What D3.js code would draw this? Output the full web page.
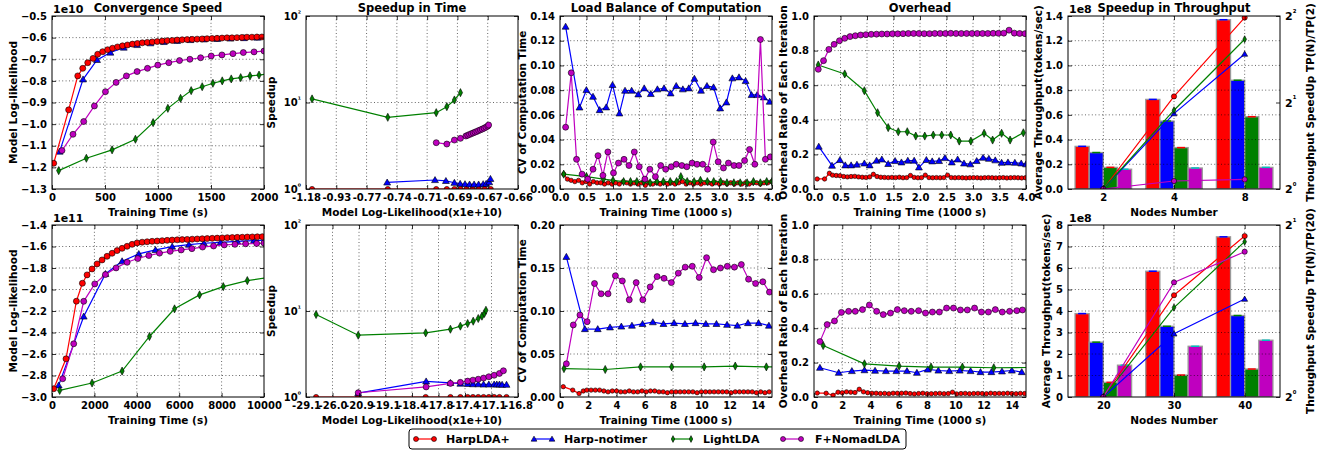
<!DOCTYPE html>
<html><head><meta charset="utf-8">
<script src="https://cdn.jsdelivr.net/npm/d3@7"></script>
<style>
body{margin:0;background:#fff;}
svg text{font-family:"DejaVu Sans",sans-serif;font-weight:bold;fill:#000;}
</style></head><body>
<svg id="chart" width="1319" height="452"></svg>
<script>
// ---------------- DATA ----------------
const seriesNames = ["HarpLDA+", "Harp-notimer", "LightLDA", "F+NomadLDA"];

// Convergence speed, row 1 (x: s, y: x1e10)
const conv1HarpX = [16,157,243,290,337,387,431,478,525,571,618,665,712,759,806,852,899,946,993,1040,1087,1134,1181,1228,1275,1322,1369,1416,1463,1510,1557,1604,1651,1698,1745,1792,1839,1886,1933,1980];
const conv1HarpY = [-1.181,-0.934,-0.777,-0.742,-0.716,-0.696,-0.677,-0.665,-0.656,-0.649,-0.643,-0.638,-0.634,-0.630,-0.627,-0.624,-0.622,-0.620,-0.618,-0.616,-0.614,-0.613,-0.611,-0.610,-0.609,-0.608,-0.607,-0.606,-0.605,-0.604,-0.603,-0.602,-0.601,-0.601,-0.600,-0.599,-0.598,-0.598,-0.597,-0.597];
const conv1NotimerX = [72,293,425,551,677,803,929,1055,1181,1307,1433,1559,1685,1811,1937];
const conv1NotimerY = [-1.127,-0.793,-0.703,-0.669,-0.646,-0.634,-0.626,-0.620,-0.615,-0.611,-0.608,-0.606,-0.604,-0.602,-0.600];
const conv1LightX = [63,324,567,787,954,1093,1213,1313,1417,1518,1606,1691,1780,1868,1953,2040];
const conv1LightY = [-1.215,-1.158,-1.119,-1.070,-0.993,-0.927,-0.881,-0.845,-0.827,-0.811,-0.800,-0.791,-0.785,-0.777,-0.773,-0.767];
const conv1NomadX = [94,198,299,400,504,605,702,803,901,998,1102,1203,1301,1402,1502,1603,1707,1805,1906,2000];
const conv1NomadY = [-1.122,-1.047,-0.988,-0.916,-0.850,-0.807,-0.777,-0.757,-0.742,-0.727,-0.716,-0.706,-0.700,-0.693,-0.685,-0.680,-0.674,-0.669,-0.666,-0.662];

// Convergence speed, row 2 (x: s, y: x1e11)
const conv2HarpX = [79,661,1150,1433,1654,1890,2126,2362,2598,2835,3071,3307,3543,3780,4016,4252,4488,4724,4961,5197,5433,5669,5906,6142,6378,6614,6850,7087,7323,7559,7795,8031,8268,8504,8740,8976,9213,9449,9685,9921];
const conv2HarpY = [-2.923,-2.645,-2.109,-1.942,-1.864,-1.809,-1.762,-1.725,-1.691,-1.663,-1.638,-1.617,-1.598,-1.580,-1.567,-1.560,-1.556,-1.552,-1.549,-1.546,-1.543,-1.540,-1.538,-1.536,-1.534,-1.532,-1.530,-1.528,-1.526,-1.524,-1.522,-1.520,-1.518,-1.517,-1.515,-1.514,-1.512,-1.511,-1.510,-1.509];
const conv2NotimerX = [315,1496,2520,3307,4094,4882,5669,6457,7165,7953,8740,9528,10300];
const conv2NotimerY = [-2.892,-2.251,-1.855,-1.737,-1.669,-1.632,-1.601,-1.583,-1.570,-1.561,-1.552,-1.545,-1.540];
const conv2LightX = [362,1890,3307,4598,5780,6961,8079,9213,10300];
const conv2LightY = [-2.939,-2.870,-2.759,-2.437,-2.180,-2.050,-1.973,-1.917,-1.885];
const conv2NomadX = [504,1024,1496,2016,2520,3024,3543,4047,4567,5071,5575,6094,6598,7102,7622,8126,8630,9134,9654,10000];
const conv2NomadY = [-2.830,-2.505,-2.110,-1.948,-1.861,-1.799,-1.747,-1.712,-1.684,-1.662,-1.645,-1.632,-1.620,-1.605,-1.595,-1.585,-1.580,-1.575,-1.572,-1.568];

// Speedup in time (x: model log-likelihood x1e10, y: speedup, log)
const spd1Ticks = ["-1.18","-0.93","-0.77","-0.74","-0.71","-0.69","-0.67","-0.66"];
const spd1HarpX = [-1.13,-0.749,-0.704,-0.697,-0.692,-0.688,-0.684,-0.680,-0.676,-0.672,-0.669];
const spd1HarpY = [1,1,1,1,1,1,1,1,1,1,1];
const spd1NotimerX = [-0.7496,-0.7048,-0.6976,-0.692,-0.6882,-0.685,-0.682,-0.679,-0.676,-0.673,-0.671,-0.6695,-0.6691];
const spd1NotimerY = [1.19,1.27,1.24,1.18,1.15,1.14,1.13,1.13,1.13,1.14,1.15,1.20,1.31];
const spd1LightX = [-1.13,-0.749,-0.704,-0.697,-0.692,-0.688];
const spd1LightY = [11.0,6.74,7.63,8.95,10.7,13.0];
const spd1NomadX = [-0.704,-0.697,-0.692,-0.688,-0.6844,-0.6832,-0.682,-0.6808,-0.6796,-0.6784,-0.6772,-0.676,-0.6748,-0.6736,-0.6724,-0.6712,-0.670,-0.6697];
const spd1NomadY = [3.43,3.31,3.68,3.85,4.10,4.18,4.27,4.36,4.45,4.54,4.63,4.73,4.83,4.93,5.05,5.18,5.33,5.49];

const spd2Ticks = ["-29.1","-26.0","-20.9","-19.1","-18.4","-17.8","-17.4","-17.1","-16.8"];
const spd2HarpX = [-27.92,-21.05,-18.09,-17.62,-17.47,-17.37,-17.31,-17.25,-17.19,-17.13,-17.07,-17.01,-16.93];
const spd2HarpY = [1,1,1,1,1,1,1,1,1,1,1,1,1];
const spd2NotimerX = [-21.05,-18.08,-17.62,-17.47,-17.37,-17.31,-17.25,-17.19,-17.13,-17.07,-17.04,-17.01,-16.98,-16.93];
const spd2NotimerY = [1.11,1.52,1.46,1.43,1.42,1.41,1.41,1.40,1.40,1.40,1.40,1.40,1.39,1.39];
const spd2LightX = [-27.92,-21.05,-18.09,-17.62,-17.47,-17.37,-17.307,-17.25,-17.208,-17.181,-17.163];
const spd2LightY = [9.1,5.23,5.57,6.14,6.66,7.15,7.61,8.18,8.71,9.35,10.2];
const spd2NomadX = [-21.05,-18.08,-17.62,-17.47,-17.37,-17.31,-17.25,-17.19,-17.13,-17.07,-17.01,-16.965];
const spd2NomadY = [1.12,1.31,1.44,1.48,1.53,1.57,1.61,1.66,1.72,1.79,1.88,2.02];

// Load balance, row 1 (x: 1000 s, y: CV)
const lb1HarpX = [0.07,0.14,0.21,0.28,0.35,0.42,0.49,0.56,0.63,0.70,0.77,0.84,0.91,0.98,1.05,1.12,1.19,1.26,1.33,1.40,1.47,1.54,1.61,1.68,1.75,1.82,1.89,1.96,2.03,2.10,2.17,2.24,2.31,2.38,2.45,2.52,2.59,2.66,2.73,2.80,2.87,2.94,3.01,3.08,3.15,3.22,3.29,3.36,3.43,3.50,3.57,3.64,3.71,3.78,3.85,3.92,3.99];
const lb1HarpY = [0.012,0.008,0.007,0.006,0.007,0.005,0.006,0.004,0.006,0.005,0.005,0.004,0.005,0.004,0.005,0.004,0.006,0.005,0.004,0.005,0.004,0.005,0.003,0.005,0.004,0.005,0.004,0.005,0.004,0.005,0.004,0.005,0.006,0.004,0.005,0.004,0.005,0.004,0.005,0.005,0.004,0.005,0.004,0.005,0.004,0.005,0.004,0.005,0.004,0.005,0.004,0.005,0.005,0.004,0.005,0.005,0.006];
const lb1NotimerX = [0.106,0.368,0.498,0.623,0.748,0.872,0.991,1.121,1.227,1.352,1.477,1.589,1.713,1.838,1.963,2.087,2.193,2.318,2.430,2.536,2.660,2.773,2.897,3.022,3.140,3.252,3.377,3.502,3.614,3.720,3.844,3.956];
const lb1NotimerY = [0.1314,0.066,0.0801,0.0747,0.0639,0.0661,0.0842,0.0612,0.0796,0.0796,0.0766,0.0815,0.0769,0.0807,0.0815,0.0774,0.0834,0.0807,0.0815,0.0893,0.0796,0.0834,0.0823,0.0653,0.0701,0.0896,0.0904,0.0874,0.0761,0.0761,0.0742,0.0707];
const lb1LightX = [0.07,0.50,0.82,1.00,1.20,1.33,1.45,1.58,1.70,1.83,1.95,2.08,2.20,2.28,2.40,2.53,2.65,2.78,2.90,3.03,3.15,3.28,3.40,3.53,3.65,3.78,3.90,4.00];
const lb1LightY = [0.012,0.010,0.008,0.007,0.006,0.006,0.006,0.006,0.005,0.006,0.006,0.006,0.006,0.010,0.006,0.006,0.007,0.006,0.006,0.006,0.005,0.005,0.005,0.005,0.006,0.005,0.006,0.006];
const lb1NomadX = [0.106,0.212,0.312,0.417,0.523,0.623,0.717,0.810,0.903,1.009,1.103,1.208,1.302,1.402,1.495,1.601,1.695,1.800,1.900,1.994,2.100,2.193,2.299,2.393,2.492,2.586,2.692,2.785,2.891,2.984,3.084,3.178,3.283,3.377,3.483,3.576,3.676,3.782,3.875,3.969];
const lb1NomadY = [0.050,0.094,0.024,0.012,0.008,0.016,0.027,0.011,0.030,0.013,0.021,0.024,0.019,0.030,0.018,0.008,0.016,0.010,0.019,0.016,0.018,0.020,0.019,0.018,0.021,0.020,0.020,0.016,0.038,0.022,0.017,0.021,0.019,0.019,0.023,0.032,0.020,0.121,0.024,0.026];

// Load balance, row 2
const lb2HarpX = [0.23,0.9,1.35,1.65,1.9,2.2,2.5,2.8,3.1,3.4,3.7,4.0,4.3,4.6,4.9,5.2,5.5,5.8,6.1,6.4,6.7,7.0,7.3,7.6,7.9,8.2,8.5,8.8,9.1,9.4,9.7,10.0,10.3,10.6,10.9,11.2,11.5,11.8,12.1,12.4,12.7,13.0,13.3,13.6,13.9,14.2,14.5,14.8];
const lb2HarpY = [0.012,0.008,0.004,0.007,0.008,0.008,0.008,0.008,0.007,0.006,0.007,0.007,0.006,0.006,0.007,0.006,0.006,0.007,0.006,0.007,0.007,0.006,0.006,0.005,0.006,0.006,0.006,0.006,0.006,0.006,0.005,0.006,0.006,0.006,0.006,0.006,0.006,0.006,0.005,0.006,0.006,0.006,0.006,0.006,0.005,0.006,0.005,0.006];
const lb2NotimerX = [0.45,1.76,2.67,3.54,4.34,5.09,5.84,6.57,7.32,8.07,8.84,9.59,10.32,11.07,11.82,12.55,13.30,14.05,14.78];
const lb2NotimerY = [0.163,0.079,0.079,0.081,0.082,0.083,0.085,0.087,0.085,0.086,0.085,0.086,0.085,0.085,0.084,0.083,0.086,0.086,0.083];
const lb2LightX = [0.28,3.20,5.70,7.90,10.20,12.40,14.60,15.5];
const lb2LightY = [0.033,0.032,0.035,0.035,0.035,0.036,0.035,0.035];
const lb2NomadX = [0.45,0.94,1.41,1.92,2.44,2.91,3.40,3.92,4.41,4.90,5.39,5.86,6.38,6.87,7.36,7.88,8.37,8.86,9.36,9.85,10.37,10.86,11.35,11.84,12.34,12.83,13.34,13.84,14.35,14.82];
const lb2NomadY = [0.0386,0.0838,0.0954,0.0876,0.132,0.120,0.120,0.141,0.135,0.113,0.133,0.113,0.128,0.140,0.138,0.133,0.144,0.151,0.152,0.139,0.162,0.148,0.150,0.152,0.151,0.154,0.137,0.132,0.134,0.122];

// Overhead, row 1
const ov1HarpX = [0.06,0.2,0.29,0.35,0.42,0.49,0.56,0.63,0.7,0.77,0.84,0.91,0.98,1.05,1.12,1.19,1.26,1.33,1.4,1.47,1.54,1.61,1.68,1.75,1.82,1.89,1.96,2.03,2.1,2.17,2.24,2.31,2.38,2.45,2.52,2.59,2.66,2.73,2.8,2.87,2.94,3.01,3.08,3.15,3.22,3.29,3.36,3.43,3.5,3.57,3.64,3.71,3.78,3.85,3.92,3.99];
const ov1HarpY = [0.058,0.058,0.091,0.080,0.078,0.077,0.072,0.070,0.072,0.073,0.070,0.068,0.067,0.070,0.085,0.072,0.068,0.067,0.066,0.067,0.066,0.068,0.065,0.066,0.078,0.067,0.065,0.066,0.080,0.066,0.065,0.066,0.065,0.066,0.080,0.066,0.065,0.066,0.065,0.064,0.065,0.066,0.065,0.064,0.065,0.066,0.065,0.064,0.065,0.066,0.064,0.065,0.066,0.065,0.064,0.065];
const ov1NotimerX = [0.09,0.34,0.49,0.59,0.70,0.81,0.95,1.05,1.18,1.28,1.40,1.53,1.65,1.77,1.89,1.98,2.12,2.23,2.36,2.47,2.60,2.71,2.83,2.95,3.07,3.19,3.30,3.42,3.54,3.66,3.79,3.91,4.00];
const ov1NotimerY = [0.245,0.135,0.168,0.137,0.137,0.141,0.148,0.137,0.164,0.171,0.145,0.162,0.154,0.164,0.164,0.125,0.168,0.160,0.162,0.179,0.154,0.171,0.148,0.143,0.162,0.181,0.175,0.166,0.152,0.154,0.152,0.148,0.143];
const ov1LightX = [0.08,0.58,0.95,1.20,1.40,1.59,1.76,1.92,2.09,2.25,2.41,2.58,2.74,2.96,3.21,3.37,3.54,3.70,3.95];
const ov1LightY = [0.717,0.665,0.568,0.441,0.355,0.331,0.331,0.306,0.306,0.312,0.312,0.312,0.277,0.277,0.322,0.283,0.322,0.283,0.325];
const ov1NomadX = [0.08,0.18,0.28,0.38,0.48,0.58,0.68,0.78,0.88,0.98,1.08,1.18,1.28,1.38,1.48,1.58,1.68,1.78,1.88,1.98,2.08,2.18,2.28,2.38,2.48,2.58,2.68,2.78,2.88,2.98,3.08,3.18,3.28,3.38,3.48,3.58,3.68,3.78,3.88,3.98];
const ov1NomadY = [0.692,0.742,0.807,0.836,0.857,0.871,0.881,0.886,0.890,0.892,0.894,0.895,0.896,0.896,0.897,0.897,0.898,0.899,0.899,0.899,0.898,0.898,0.899,0.899,0.899,0.900,0.899,0.899,0.899,0.899,0.899,0.899,0.899,0.900,0.900,0.901,0.918,0.901,0.899,0.898];

// Overhead, row 2
const ov2HarpX = [0.23,0.86,1.35,1.7,2.0,2.3,2.6,2.9,3.2,3.5,3.8,4.1,4.4,4.7,5.0,5.3,5.6,5.9,6.2,6.5,6.8,7.1,7.4,7.7,8.0,8.3,8.6,8.9,9.2,9.5,9.8,10.1,10.4,10.7,11.0,11.3,11.6,11.9,12.2,12.5,12.8,13.1,13.4,13.7,14.0,14.3,14.6,14.9];
const ov2HarpY = [0.023,0.022,0.010,0.028,0.025,0.030,0.028,0.026,0.045,0.030,0.025,0.022,0.022,0.020,0.021,0.019,0.022,0.022,0.022,0.023,0.020,0.018,0.020,0.022,0.019,0.019,0.020,0.021,0.019,0.020,0.028,0.018,0.020,0.021,0.019,0.020,0.021,0.020,0.019,0.022,0.020,0.021,0.020,0.022,0.020,0.019,0.021,0.020];
const ov2NotimerX = [0.42,1.75,2.68,3.57,4.32,5.09,5.83,6.58,7.28,8.05,8.80,9.57,10.31,11.08,11.78,12.55,13.30,14.00,14.70];
const ov2NotimerY = [0.170,0.141,0.151,0.156,0.153,0.151,0.151,0.151,0.141,0.160,0.154,0.151,0.154,0.151,0.145,0.145,0.149,0.154,0.145];
const ov2LightX = [0.65,3.57,6.02,8.28,10.50,12.72,15.5];
const ov2LightY = [0.299,0.193,0.180,0.174,0.174,0.170,0.172];
const ov2NomadX = [0.42,0.93,1.45,1.94,2.45,2.92,3.43,3.92,4.43,4.90,5.41,5.90,6.39,6.88,7.40,7.89,8.38,8.87,9.38,9.87,10.36,10.85,11.36,11.85,12.34,12.83,13.32,13.84,14.35,14.75];
const ov2NomadY = [0.322,0.421,0.442,0.492,0.498,0.498,0.508,0.535,0.498,0.479,0.488,0.508,0.502,0.498,0.502,0.488,0.494,0.494,0.517,0.517,0.506,0.506,0.517,0.494,0.494,0.508,0.494,0.498,0.502,0.506];

// Throughput (x1e8 tokens/sec) and speedup
const nodes1 = ["2","4","8"];
const tp1Harp = [0.345,0.725,1.37], tp1Notimer = [0.295,0.55,0.88], tp1Light = [0.175,0.335,0.585], tp1Nomad = [0.16,0.17,0.175];
const su1Harp = [1,2.1,3.95], su1Notimer = [1,1.83,2.95], su1Light = [1,1.88,3.32], su1Nomad = [1,1.066,1.08];
const nodes2 = ["20","30","40"];
const tp2Harp = [3.88,5.85,7.45], tp2Notimer = [2.55,3.29,3.79], tp2Light = [0.68,1.02,1.30], tp2Nomad = [1.48,2.36,2.64];
const su2Harp = [1,1.507,1.913], su2Notimer = [1,1.29,1.484], su2Light = [1,1.434,1.87], su2Nomad = [1,1.587,1.796];

// tick values
const conv1XTicks = [0,500,1000,1500,2000], conv1YTicks = [-1.3,-1.2,-1.1,-1.0,-0.9,-0.8,-0.7,-0.6,-0.5];
const conv2XTicks = [0,2000,4000,6000,8000,10000], conv2YTicks = [-3.0,-2.8,-2.6,-2.4,-2.2,-2.0,-1.8,-1.6,-1.4];
const t4Ticks = [0,0.5,1.0,1.5,2.0,2.5,3.0,3.5,4.0], t15Ticks = [0,2,4,6,8,10,12,14];
const lb1YTicks = [0,0.02,0.04,0.06,0.08,0.10,0.12,0.14], lb2YTicks = [0,0.05,0.10,0.15,0.20];
const ovYTicks = [0,0.2,0.4,0.6,0.8,1.0];
const tp1YTicks = [0,0.2,0.4,0.6,0.8,1.0,1.2,1.4], tp2YTicks = [0,1,2,3,4,5,6,7,8];

// ---------------- DRAWING ----------------
const COL = {harp:"#ff0000", notimer:"#0000ff", light:"#008000", nomad:"#bf00bf"};
const MK = {harp:"circle", notimer:"triangle", light:"diamond", nomad:"circle"};
const W = 212;
const colLeft = [52, 306, 560, 814, 1068];
const rowTop = [16, 225], rowH = [173, 172];
const svg = d3.select("#chart");
svg.append("rect").attr("width",1319).attr("height",452).attr("fill","#fff");
let clipN = 0;

function makePanel(col,row){
  const left = colLeft[col], top = rowTop[row], h = rowH[row];
  const g = svg.append("g").attr("transform",`translate(${left},${top})`);
  const id = "cp"+(clipN++);
  g.append("clipPath").attr("id",id).append("rect").attr("x",0).attr("y",0).attr("width",W).attr("height",h);
  return {g, w:W, h, left, top, clip:id, row, col};
}
function styleAxis(sel){
  sel.select(".domain").remove();
  sel.selectAll(".tick line").attr("stroke","#000").attr("stroke-width",0.8);
  sel.selectAll(".tick text").attr("font-size","10px").attr("font-weight","bold")
     .attr("font-family","DejaVu Sans").attr("fill","#000");
}
function grid(p,x,y,xt,yt){
  const gg = p.g.append("g").attr("stroke","#000").attr("stroke-width",0.6).attr("stroke-dasharray","1,2.4");
  xt.forEach(t=>{const px=x(t); if(px>1&&px<p.w-1) gg.append("line").attr("x1",px).attr("x2",px).attr("y1",0).attr("y2",p.h);});
  yt.forEach(t=>{const py=y(t); if(py>1&&py<p.h-1) gg.append("line").attr("x1",0).attr("x2",p.w).attr("y1",py).attr("y2",py);});
}
function axes(p,x,y,o){
  const xa = d3.axisBottom(x).tickValues(o.xt).tickFormat(o.xf).tickSize(-4).tickSizeOuter(0).tickPadding(5);
  p.g.append("g").attr("transform",`translate(0,${p.h})`).call(xa).call(styleAxis);
  p.g.append("g").call(d3.axisTop(x).tickValues(o.xt).tickFormat("").tickSize(-4).tickSizeOuter(0)).call(styleAxis);
  const ya = d3.axisLeft(y).tickValues(o.yt).tickFormat(o.yf).tickSize(-4).tickSizeOuter(0).tickPadding(5);
  const yg = p.g.append("g").call(ya).call(styleAxis);
  if(o.ysup) supLabels(yg, o.ysup, 10, 7.5);
  if(!o.noRight) p.g.append("g").attr("transform",`translate(${p.w},0)`).call(d3.axisRight(y).tickValues(o.yt).tickFormat("").tickSize(-4).tickSizeOuter(0)).call(styleAxis);
  p.g.append("rect").attr("width",p.w).attr("height",p.h).attr("fill","none").attr("stroke","#000").attr("stroke-width",1);
  if(o.xlabel) p.g.append("text").attr("x",p.w/2).attr("y",p.h+27).attr("text-anchor","middle").attr("font-size","10.5px").text(o.xlabel);
  if(o.ylabel) p.g.append("text").attr("transform",`translate(${-o.ylabOff},${p.h/2}) rotate(-90)`).attr("text-anchor","middle").attr("font-size","10.5px").text(o.ylabel);
  if(o.title) p.g.append("text").attr("x",p.w/2).attr("y",-4).attr("text-anchor","middle").attr("font-size","11.5px").text(o.title);
  if(o.offset) p.g.append("text").attr("x",1).attr("y",-3).attr("font-size","11px").text(o.offset);
}
function supLabels(sel, f, bs, ss){
  sel.selectAll(".tick text").each(function(d){
    const t = d3.select(this); const [b,e] = f(d);
    t.text(null).attr("font-size",bs+"px");
    t.append("tspan").text(b);
    t.append("tspan").attr("dy","-0.5em").attr("font-size",ss+"px").text(e);
  });
}
function marker(g,type,px,py,color,r){
  if(type==="circle"){
    g.append("circle").attr("cx",px).attr("cy",py).attr("r",r).attr("fill",color).attr("stroke","#000").attr("stroke-width",0.6);
  } else if(type==="triangle"){
    const s=r*1.15;
    g.append("path").attr("d",`M${px},${py-s}L${px+s},${py+s*0.75}L${px-s},${py+s*0.75}Z`).attr("fill",color).attr("stroke","#000").attr("stroke-width",0.6);
  } else {
    const w=r*0.7,h=r*1.35;
    g.append("path").attr("d",`M${px},${py-h}L${px+w},${py}L${px},${py+h}L${px-w},${py}Z`).attr("fill",color).attr("stroke","#000").attr("stroke-width",0.6);
  }
}
function series(p,x,y,xs,ys,key,r){
  const n=Math.min(xs.length,ys.length);
  const pts=d3.range(n).map(i=>[x(xs[i]),y(ys[i])]);
  const cg=p.g.append("g").attr("clip-path",`url(#${p.clip})`);
  cg.append("path").attr("d",d3.line()(pts)).attr("fill","none").attr("stroke",COL[key]).attr("stroke-width",1.2);
  pts.forEach(([a,b])=>marker(cg,MK[key],a,b,COL[key],r));
}
const yLabX = [39,35,38,31,30];

// ---- Column 1: convergence ----
[[0,[0,2000],[-1.3,-0.5],conv1XTicks,conv1YTicks,d3.format(".1f"),
   [[conv1NotimerX,conv1NotimerY,"notimer"],[conv1LightX,conv1LightY,"light"],[conv1NomadX,conv1NomadY,"nomad"],[conv1HarpX,conv1HarpY,"harp"]],"1e10","Convergence Speed"],
 [1,[0,10000],[-3.0,-1.4],conv2XTicks,conv2YTicks,d3.format(".1f"),
   [[conv2NotimerX,conv2NotimerY,"notimer"],[conv2LightX,conv2LightY,"light"],[conv2NomadX,conv2NomadY,"nomad"],[conv2HarpX,conv2HarpY,"harp"]],"1e11",null]
].forEach(([row,xd,yd,xt,yt,yf,ser,off,title])=>{
  const p=makePanel(0,row);
  const x=d3.scaleLinear().domain(xd).range([0,p.w]);
  const y=d3.scaleLinear().domain(yd).range([p.h,0]);
  grid(p,x,y,xt,yt);
  ser.forEach(s=>series(p,x,y,s[0],s[1],s[2],3));
  axes(p,x,y,{xt,yt,xf:d3.format("d"),yf,xlabel:"Training Time (s)",ylabel:"Model Log-likelihood",ylabOff:yLabX[0]-4,offset:off,title});
});

// ---- Column 2: speedup in time ----
[[0,spd1Ticks,[[spd1HarpX,spd1HarpY,"harp"],[spd1NotimerX,spd1NotimerY,"notimer"],[spd1LightX,spd1LightY,"light"],[spd1NomadX,spd1NomadY,"nomad"]],"Speedup in Time"],
 [1,spd2Ticks,[[spd2HarpX,spd2HarpY,"harp"],[spd2NotimerX,spd2NotimerY,"notimer"],[spd2LightX,spd2LightY,"light"],[spd2NomadX,spd2NomadY,"nomad"]],null]
].forEach(([row,labs,ser,title])=>{
  const p=makePanel(1,row);
  const dom=labs.map(Number);
  const x=d3.scaleLinear().domain(dom).range(dom.map((d,i)=>i*p.w/(dom.length-1)));
  const y=d3.scaleLog().domain([1,100]).range([p.h,0]);
  grid(p,x,y,dom,[1,10,100]);
  ser.forEach(s=>series(p,x,y,s[0],s[1],s[2],s[2]==="harp"?2.6:3));
  axes(p,x,y,{xt:dom,yt:[1,10,100],xf:(d,i)=>labs[i],yf:d3.format("d"),ysup:d=>["10",["\u2070","\u00B9","\u00B2"][Math.round(Math.log10(d))]],
    xlabel:"Model Log-Likelihood(x1e+10)",ylabel:"Speedup",ylabOff:yLabX[1]-4,title});
});

// ---- Column 3: load balance ----
[[0,[0,4],[0,0.14],t4Ticks,lb1YTicks,d3.format(".1f"),
   [[lb1HarpX,lb1HarpY,"harp"],[lb1NotimerX,lb1NotimerY,"notimer"],[lb1LightX,lb1LightY,"light"],[lb1NomadX,lb1NomadY,"nomad"]],"Load Balance of Computation"],
 [1,[0,15],[0,0.20],t15Ticks,lb2YTicks,d3.format("d"),
   [[lb2HarpX,lb2HarpY,"harp"],[lb2NotimerX,lb2NotimerY,"notimer"],[lb2LightX,lb2LightY,"light"],[lb2NomadX,lb2NomadY,"nomad"]],null]
].forEach(([row,xd,yd,xt,yt,xf,ser,title])=>{
  const p=makePanel(2,row);
  const x=d3.scaleLinear().domain(xd).range([0,p.w]);
  const y=d3.scaleLinear().domain(yd).range([p.h,0]);
  grid(p,x,y,xt,yt);
  ser.forEach(s=>series(p,x,y,s[0],s[1],s[2],s[2]==="harp"?2.2:3));
  axes(p,x,y,{xt,yt,xf,yf:d3.format(".2f"),xlabel:"Training Time (1000 s)",ylabel:"CV of Computation Time",ylabOff:yLabX[2]-4,title});
});

// ---- Column 4: overhead ----
[[0,[0,4],t4Ticks,d3.format(".1f"),
   [[ov1HarpX,ov1HarpY,"harp"],[ov1NotimerX,ov1NotimerY,"notimer"],[ov1LightX,ov1LightY,"light"],[ov1NomadX,ov1NomadY,"nomad"]],"Overhead"],
 [1,[0,15],t15Ticks,d3.format("d"),
   [[ov2HarpX,ov2HarpY,"harp"],[ov2NotimerX,ov2NotimerY,"notimer"],[ov2LightX,ov2LightY,"light"],[ov2NomadX,ov2NomadY,"nomad"]],null]
].forEach(([row,xd,xt,xf,ser,title])=>{
  const p=makePanel(3,row);
  const x=d3.scaleLinear().domain(xd).range([0,p.w]);
  const y=d3.scaleLinear().domain([0,1]).range([p.h,0]);
  grid(p,x,y,xt,ovYTicks);
  ser.forEach(s=>series(p,x,y,s[0],s[1],s[2],s[2]==="harp"?2.2:3));
  axes(p,x,y,{xt,yt:ovYTicks,xf,yf:d3.format(".1f"),xlabel:"Training Time (1000 s)",ylabel:"Overhead Ratio of Each Iteration",ylabOff:yLabX[3]-4,title});
});

// ---- Column 5: throughput ----
const capCol = {harp:"#0000ff", notimer:"#008000", light:"#ff0000", nomad:"#00bfbf"};
[[0,nodes1,[0,1.4],tp1YTicks,d3.format(".1f"),{harp:tp1Harp,notimer:tp1Notimer,light:tp1Light,nomad:tp1Nomad},
   {harp:su1Harp,notimer:su1Notimer,light:su1Light,nomad:su1Nomad},[1,4],"Throughput SpeedUp TP(N)/TP(2)","Speedup in Throughput",30],
 [1,nodes2,[0,8],tp2YTicks,d3.format("d"),{harp:tp2Harp,notimer:tp2Notimer,light:tp2Light,nomad:tp2Nomad},
   {harp:su2Harp,notimer:su2Notimer,light:su2Light,nomad:su2Nomad},[1,2],"Throughput SpeedUp TP(N)/TP(20)",null,22]
].forEach(([row,cats,yd,yt,yf,tp,su,sd,rlab,title,ylo])=>{
  const p=makePanel(4,row);
  const x=d3.scaleLinear().domain([-0.5,2.5]).range([0,p.w]);
  const y=d3.scaleLinear().domain(yd).range([p.h,0]);
  const y2=d3.scaleLog().base(2).domain(sd).range([p.h,0]);
  const keys=["harp","notimer","light","nomad"];
  const bg=p.g.append("g").attr("clip-path",`url(#${p.clip})`);
  keys.forEach((k,j)=>{
    tp[k].forEach((v,i)=>{
      const x0=x(i-0.4+0.2*j), x1=x(i-0.2+0.2*j);
      bg.append("rect").attr("x",x0).attr("y",y(v)).attr("width",x1-x0).attr("height",p.h-y(v))
        .attr("fill",COL[k]).attr("stroke","#999").attr("stroke-width",1.3);
      const cx=(x0+x1)/2;
      bg.append("line").attr("x1",cx-4).attr("x2",cx+4).attr("y1",y(v)).attr("y2",y(v)).attr("stroke",capCol[k]).attr("stroke-width",1.5);
    });
  });
  grid(p,x,y,[0,1,2],yt);
  keys.forEach(k=>series(p,x,y2,[0,1,2],su[k],k,2.6));
  axes(p,x,y,{xt:[0,1,2],yt,xf:(d,i)=>cats[i],yf,noRight:true,xlabel:"Nodes Number",ylabel:"Average Throughput(tokens/sec)",ylabOff:ylo-4,offset:"1e8",title});
  const ticks2 = row===0?[1,2,4]:[1,2];
  const rg=p.g.append("g").attr("transform",`translate(${p.w},0)`)
    .call(d3.axisRight(y2).tickValues(ticks2).tickFormat(d3.format("d")).tickSize(-4).tickSizeOuter(0).tickPadding(5)).call(styleAxis);
  supLabels(rg,d=>["2",["\u2070","\u00B9","\u00B2"][Math.round(Math.log2(d))]],11,8.5);
  p.g.append("text").attr("transform",`translate(${p.w+34},${p.h/2}) rotate(-90)`).attr("text-anchor","middle").attr("font-size","10.5px").text(rlab);
});

// ---- Legend ----
const lg=svg.append("g");
lg.append("rect").attr("x",409).attr("y",429).attr("width",497).attr("height",20).attr("rx",3).attr("fill","#fff").attr("stroke","#000").attr("stroke-width",1);
const legItems=[["harp",416,434,446],["notimer",534,552,564],["light",673,691,703],["nomad",783,801,815]];
legItems.forEach(([k,x1,x2,tx],i)=>{
  lg.append("line").attr("x1",x1).attr("x2",x2).attr("y1",439).attr("y2",439).attr("stroke",COL[k]).attr("stroke-width",1.2);
  marker(lg,MK[k],x1,439,COL[k],2.5); marker(lg,MK[k],x2,439,COL[k],2.5);
  lg.append("text").attr("x",tx).attr("y",443).attr("font-size","11px").text(seriesNames[i]);
});
</script>
</body></html>
